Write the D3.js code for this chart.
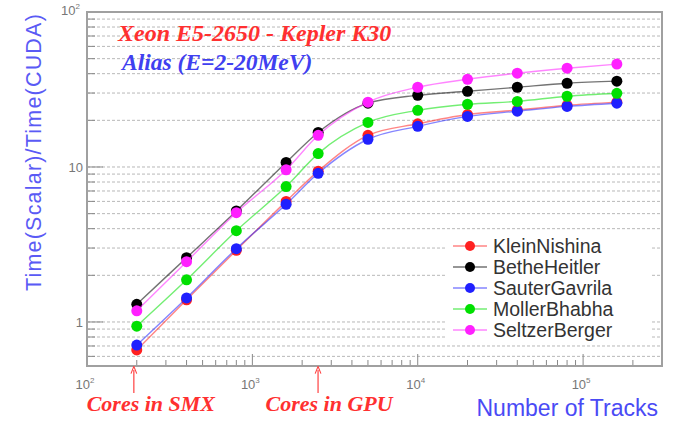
<!DOCTYPE html>
<html><head><meta charset="utf-8">
<script src="https://cdn.jsdelivr.net/npm/d3@7"></script>
<style>body{margin:0;background:#fff}svg{display:block}</style>
</head><body>
<svg id="c" width="673" height="423"></svg>
<script>
const tracks = [200, 400, 800, 1600, 2500, 5000, 10000, 20000, 40000, 80000, 160000];
const seriesNames = ["KleinNishina", "BetheHeitler", "SauterGavrila", "MollerBhabha", "SeltzerBerger"];
const seriesColors = ["#ff2020", "#000000", "#2020ff", "#00e000", "#ff20ff"];
const kleinNishina  = [0.66, 1.39, 2.9, 6.0, 9.4, 16.0, 19.0, 21.8, 23.3, 25.0, 26.2];
const betheHeitler  = [1.30, 2.60, 5.2, 10.7, 16.7, 25.8, 29.0, 30.8, 32.7, 34.7, 35.8];
const sauterGavrila = [0.71, 1.43, 2.97, 5.75, 9.1, 15.1, 18.3, 21.2, 22.9, 24.6, 25.8];
const mollerBhabha  = [0.94, 1.87, 3.88, 7.48, 12.2, 19.4, 23.2, 25.4, 26.5, 28.6, 29.9];
const seltzerBerger = [1.18, 2.45, 5.07, 9.6, 16.0, 26.2, 32.7, 36.8, 40.3, 43.4, 46.1];
const seriesValues = [kleinNishina, betheHeitler, sauterGavrila, mollerBhabha, seltzerBerger];
const xTickLabels = ["2", "3", "4", "5"]; // exponents of 10
const yTickLabels = [{v:1, t:"1"}, {v:10, t:"10"}, {v:100, t:"10", sup:"2"}];
const markers = [{v:192, t:"Cores in SMX"}, {v:2496, t:"Cores in GPU"}];
const titleLines = ["Xeon E5-2650 - Kepler K30", "Alias (E=2-20MeV)"];

const svg = d3.select("#c");
const L = 87, R = 662, T = 12, B = 366;
const x = d3.scaleLog().domain([100, 3e5]).range([L, R]);
const y = d3.scaleLog().domain([0.52, 100]).range([B, T]);
const sans = "Liberation Sans, Arial, sans-serif";
const serif = "Liberation Serif, Times New Roman, serif";

// grid lines at every log tick
const yTicks = [];
[0.1, 1, 10].forEach(d => { for (let k = 1; k <= 9; k++) { const v = d * k; if (v >= 0.52 && v <= 100) yTicks.push(v); } });
yTicks.push(100);
const grid = svg.append("g");
yTicks.forEach(v => {
  grid.append("line").attr("x1", L).attr("x2", R).attr("y1", y(v)).attr("y2", y(v))
    .attr("stroke", "#b8b8b8").attr("stroke-width", 1).attr("stroke-dasharray", "3,2");
});

// y ticks (inside)
yTicks.forEach(v => {
  const major = Math.abs(Math.log10(v) - Math.round(Math.log10(v))) < 1e-9;
  svg.append("line").attr("x1", L).attr("x2", L + (major ? 16 : 8)).attr("y1", y(v)).attr("y2", y(v))
    .attr("stroke", "#888").attr("stroke-width", 1);
});
// x ticks (inside)
const xTicks = [];
[100, 1000, 10000, 100000].forEach(d => { for (let k = 1; k <= 9; k++) { const v = d * k; if (v <= 3e5) xTicks.push(v); } });
xTicks.forEach(v => {
  const major = Math.abs(Math.log10(v) - Math.round(Math.log10(v))) < 1e-9;
  svg.append("line").attr("x1", x(v)).attr("x2", x(v)).attr("y1", B).attr("y2", B - (major ? 12 : 6))
    .attr("stroke", "#888").attr("stroke-width", 1);
});

// frame
svg.append("rect").attr("x", L).attr("y", T).attr("width", R - L).attr("height", B - T)
  .attr("fill", "none").attr("stroke", "#a0a0a0").attr("stroke-width", 2);

// tick labels
xTickLabels.forEach(e => {
  const t = svg.append("text").attr("x", x(Math.pow(10, +e)) - 2).attr("y", 389).attr("text-anchor", "middle")
    .attr("font-family", sans).attr("font-size", 13).attr("fill", "#777");
  t.append("tspan").text("10");
  t.append("tspan").attr("dy", -6).attr("font-size", 8).text(e);
});
yTickLabels.forEach(d => {
  const t = svg.append("text").attr("x", d.sup ? 80 : 83).attr("y", y(d.v) + (d.sup ? 3 : 5)).attr("text-anchor", "end")
    .attr("font-family", sans).attr("font-size", 13).attr("fill", "#777");
  t.append("tspan").text(d.t);
  if (d.sup) t.append("tspan").attr("dy", -6).attr("font-size", 8).text(d.sup);
});

// axis titles
svg.append("text").attr("transform", "translate(41,13) rotate(-90)").attr("text-anchor", "end")
  .attr("font-family", sans).attr("font-size", 21.5).attr("letter-spacing", 1.2).attr("fill", "#5a5af5")
  .text("Time(Scalar)/Time(CUDA)");
svg.append("text").attr("x", 658).attr("y", 416).attr("text-anchor", "end")
  .attr("font-family", sans).attr("font-size", 23).attr("fill", "#4a4af5")
  .text("Number of Tracks");

// chart titles
svg.append("text").attr("x", 118).attr("y", 41).attr("font-family", serif)
  .attr("font-weight", "bold").attr("font-style", "italic").attr("font-size", 24).attr("fill", "#ff3030").text(titleLines[0]);
svg.append("text").attr("x", 122).attr("y", 70).attr("font-family", serif)
  .attr("font-weight", "bold").attr("font-style", "italic").attr("font-size", 23.5).attr("fill", "#4040f0").text(titleLines[1]);

// series
const line = d3.line().x((d, i) => x(tracks[i])).y(d => y(d)).curve(d3.curveMonotoneX);
seriesValues.forEach((vals, s) => {
  const g = svg.append("g");
  g.append("path").attr("d", line(vals)).attr("fill", "none").attr("stroke", seriesColors[s])
    .attr("stroke-width", 1.4).attr("stroke-opacity", 0.55);
  g.selectAll("circle").data(vals).join("circle")
    .attr("cx", (d, i) => x(tracks[i])).attr("cy", d => y(d)).attr("r", 5.5).attr("fill", seriesColors[s]);
});

// legend
const lg = svg.append("g");
lg.append("rect").attr("x", 447).attr("y", 233).attr("width", 205).attr("height", 108).attr("fill", "#fff");
seriesNames.forEach((n, i) => {
  const yy = 246 + i * 21;
  lg.append("line").attr("x1", 453).attr("x2", 487).attr("y1", yy).attr("y2", yy)
    .attr("stroke", seriesColors[i]).attr("stroke-width", 1.4).attr("stroke-opacity", 0.55);
  lg.append("circle").attr("cx", 470).attr("cy", yy).attr("r", 5).attr("fill", seriesColors[i]);
  lg.append("text").attr("x", 493).attr("y", yy + 7).attr("font-family", sans)
    .attr("font-size", 19.5).attr("fill", "#333").text(n);
});

// annotations with arrows
const defs = svg.append("defs");
defs.append("marker").attr("id", "ah").attr("viewBox", "0 0 10 10").attr("refX", 5).attr("refY", 5)
  .attr("markerWidth", 6).attr("markerHeight", 8).attr("orient", "auto-start-reverse")
  .append("path").attr("d", "M0,1 L10,5 L0,9").attr("fill", "none").attr("stroke", "#ff4040").attr("stroke-width", 1.5);
markers.forEach((m, i) => {
  svg.append("line").attr("x1", x(m.v)).attr("x2", x(m.v)).attr("y1", 393).attr("y2", 370)
    .attr("stroke", "#ff4040").attr("stroke-width", 1.2).attr("marker-end", "url(#ah)");
  svg.append("text").attr("x", x(m.v) + (i === 0 ? 17 : 11)).attr("y", 411).attr("text-anchor", "middle")
    .attr("font-family", serif).attr("font-weight", "bold")
    .attr("font-style", "italic").attr("font-size", 22).attr("fill", "#ff3030").text(m.t);
});
</script>
</body></html>
